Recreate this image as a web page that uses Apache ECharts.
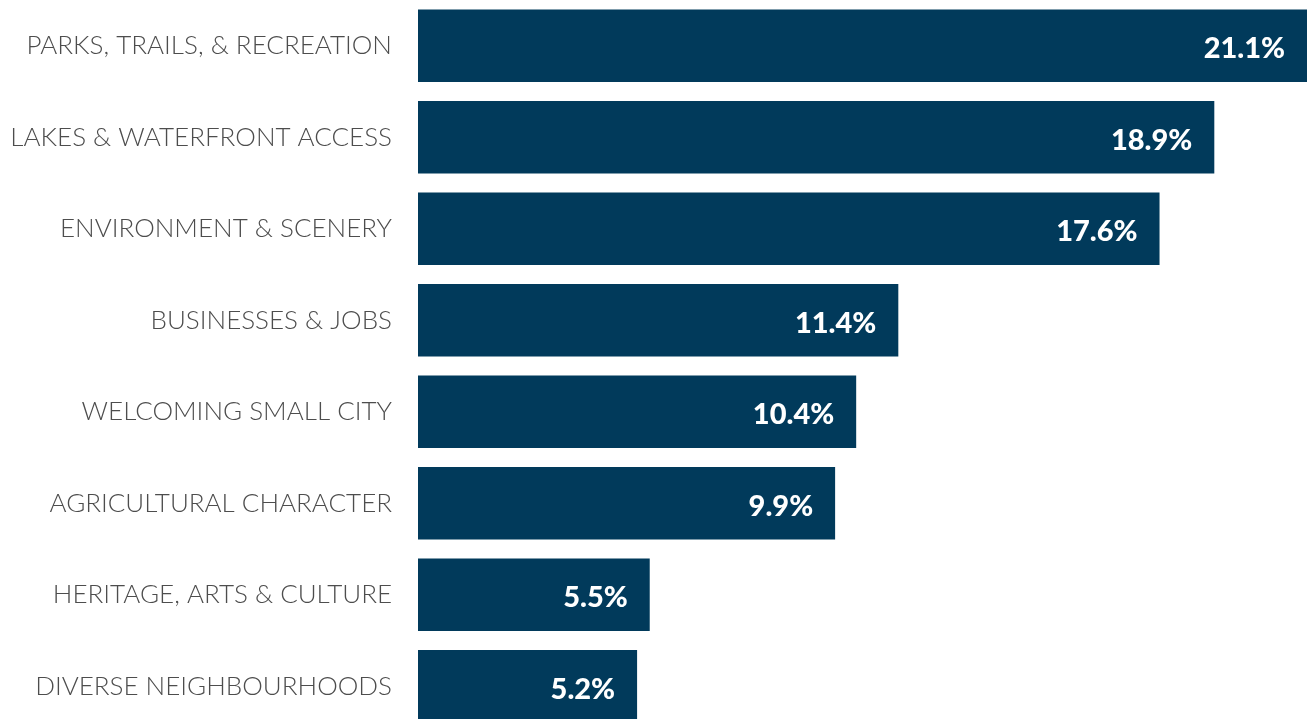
<!DOCTYPE html>
<html>
<head>
<meta charset="utf-8">
<script src="https://cdn.jsdelivr.net/npm/echarts@6/dist/echarts.min.js"></script>
<style>
html,body{margin:0;padding:0;background:#fff;overflow:hidden;width:1307px;height:719px;}
#chart{width:1307px;height:732px;}
</style>
</head>
<body>
<div id="chart"></div>
<script>
const categories = [
  "PARKS, TRAILS, & RECREATION",
  "LAKES & WATERFRONT ACCESS",
  "ENVIRONMENT & SCENERY",
  "BUSINESSES & JOBS",
  "WELCOMING SMALL CITY",
  "AGRICULTURAL CHARACTER",
  "HERITAGE, ARTS & CULTURE",
  "DIVERSE NEIGHBOURHOODS"
];
const values = [21.1, 18.9, 17.6, 11.4, 10.4, 9.9, 5.5, 5.2];

const chart = echarts.init(document.getElementById('chart'));
chart.setOption({
  animation: false,
  grid: { left: 418, right: 0, top: 0, bottom: 0, containLabel: false },
  xAxis: {
    type: 'value', min: 0, max: 21.1,
    show: false
  },
  yAxis: {
    type: 'category',
    data: categories,
    inverse: true,
    axisLine: { show: false },
    axisTick: { show: false },
    splitLine: { show: false },
    axisLabel: {
      margin: 26,
      color: '#4d4d4d',
      fontFamily: 'Lato',
      fontWeight: 300,
      fontSize: 26
    }
  },
  series: [{
    type: 'bar',
    data: values,
    barCategoryGap: '21%',
    itemStyle: { color: '#013a5b' },
    label: {
      show: true,
      position: 'insideRight',
      distance: 22,
      offset: [0, 3],
      formatter: p => p.value.toFixed(1) + '%',
      color: '#ffffff',
      fontFamily: 'Lato',
      fontWeight: 900,
      fontSize: 29
    }
  }]
});
</script>
</body>
</html>
